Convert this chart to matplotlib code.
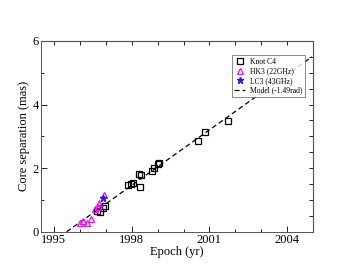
from __future__ import annotations

import matplotlib

matplotlib.use("Agg")
import matplotlib.pyplot as plt
from matplotlib.ticker import MultipleLocator

# Knot C4 positions (black open squares)
c4_epoch = [1996.65, 1996.78, 1996.90, 1996.97,
            1997.87, 1997.96, 1998.04, 1998.32, 1998.29, 1998.35,
            1998.77, 1998.86, 1999.03, 1999.07,
            2000.55, 2000.83, 2001.71]
c4_sep = [0.65, 0.63, 0.74, 0.82,
          1.47, 1.50, 1.53, 1.40, 1.82, 1.78,
          1.92, 2.02, 2.12, 2.17,
          2.84, 3.15, 3.47]

# HK3 at 22 GHz (magenta open triangles)
hk3_epoch = [1996.00, 1996.13, 1996.26, 1996.42, 1996.58, 1996.71, 1996.74, 1996.94]
hk3_sep = [0.29, 0.33, 0.29, 0.40, 0.72, 0.78, 0.90, 1.15]

# LC3 at 43 GHz (blue star)
lc3_epoch = [1996.90]
lc3_sep = [1.05]

# model track, -1.49 rad
model_epoch = [1995.49, 2004.95]
model_sep = [0.0, 5.50]

x_ticks = [1995, 1998, 2001, 2004]
y_ticks = [0, 2, 4, 6]

SERIF = ["Liberation Serif", "DejaVu Serif"]


def style_axes(ax) -> None:
    """Grace-like inward ticks on the left/bottom."""
    ax.set_xlim(1994.5, 2005.0)
    ax.set_ylim(0, 6)
    ax.set_xticks(x_ticks)
    ax.set_yticks(y_ticks)
    ax.xaxis.set_minor_locator(MultipleLocator(1))
    ax.yaxis.set_minor_locator(MultipleLocator(1))
    ax.tick_params(which="both", direction="in", labelsize=9, width=0.6,
                   top=False, right=False, pad=1.5)
    ax.tick_params(which="major", length=4)
    ax.tick_params(which="minor", length=2.5)
    for spine in ax.spines.values():
        spine.set_linewidth(0.7)
        spine.set_color("#555555")


def add_mirror_ticks(ax) -> None:
    """Top and right ticks, unlabeled, at finer spacing."""
    top = ax.secondary_xaxis("top")
    top.xaxis.set_major_locator(MultipleLocator(1))
    top.tick_params(direction="in", length=3, width=0.6, labeltop=False)
    right = ax.secondary_yaxis("right")
    right.yaxis.set_major_locator(MultipleLocator(0.5))
    right.tick_params(direction="in", length=3, width=0.6, labelright=False)


def main() -> None:
    plt.rcParams["font.family"] = SERIF
    fig = plt.figure(figsize=(3.53, 2.73), dpi=100)
    ax = fig.add_axes([0.116, 0.151, 0.771, 0.699])

    ax.plot(c4_epoch, c4_sep, linestyle="none", marker="s", markersize=4.2,
            markerfacecolor="none", markeredgecolor="black", markeredgewidth=0.9,
            label="Knot C4", zorder=3)
    ax.plot(hk3_epoch, hk3_sep, linestyle="none", marker="^", markersize=4.5,
            markerfacecolor="none", markeredgecolor="#ff00ff", markeredgewidth=0.9,
            label="HK3 (22GHz)", zorder=3)
    ax.plot(lc3_epoch, lc3_sep, linestyle="none", marker="*", markersize=5,
            color="#1a1aff", label="LC3 (43GHz)", zorder=4)
    ax.plot(model_epoch, model_sep, linestyle=(0, (4, 2.5)), color="black",
            linewidth=0.9, label="Model (-1.49rad)", zorder=2)

    style_axes(ax)
    add_mirror_ticks(ax)

    ax.set_xlabel("Epoch (yr)", fontsize=9, labelpad=0)
    ax.set_ylabel("Core separation (mas)", fontsize=9, labelpad=2)

    leg = ax.legend(loc="upper right", bbox_to_anchor=(0.97, 0.925), fontsize=5.5,
                    frameon=True, fancybox=False, edgecolor="#555555",
                    handlelength=1.4, handletextpad=0.6, borderpad=0.35,
                    labelspacing=0.2, borderaxespad=0)
    leg.get_frame().set_linewidth(0.6)

    fig.savefig("out.png", dpi=100)
    plt.close(fig)


if __name__ == "__main__":
    main()
